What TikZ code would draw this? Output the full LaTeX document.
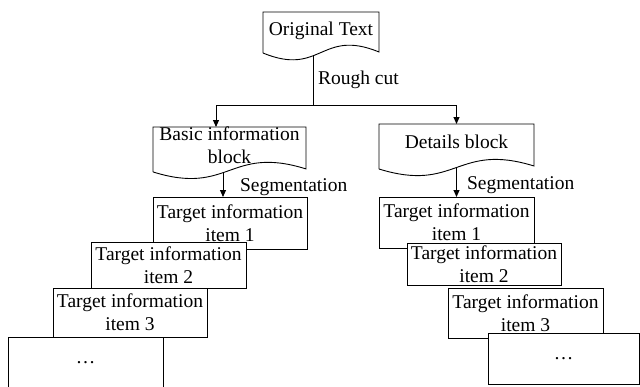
\documentclass[tikz,border=0pt]{standalone}
\usepackage{fontspec}
\setmainfont{Liberation Serif}
\usetikzlibrary{arrows.meta,calc}
\newcommand\mydocshape[4]{%
  \draw ($(#1.south west)+(0,#2)$) -- (#1.north west) -- (#1.north east)
    -- ($(#1.south east)+(0,#3)$) .. controls +(-#4,-24) and +(#4,24) .. ($(#1.south west)+(0,#2)$);}
\begin{document}
\begin{tikzpicture}[x=1pt,y=-1pt,
  font=\fontsize{19.5}{23}\selectfont, line width=0.9pt,
  txt/.style={inner sep=0pt, outer sep=0pt, align=center},
  docnode/.style={txt, minimum height=36pt, anchor=north west},
  itembox/.style={draw, fill=white, inner sep=0pt, outer sep=0pt, align=center, anchor=north west},
  arr/.style={-{Triangle[length=7pt,width=6pt]}}]
\useasboundingbox (0,0) rectangle (640,386);
\clip (0,0) rectangle (640,386);

% document-shaped nodes
\node[docnode, minimum width=116pt, minimum height=38pt] (orig) at (263,12) {Original Text};
\node[docnode, minimum width=153pt] (basic) at (153,127) {Basic information\\block};
\node[docnode, minimum width=155pt] (details) at (379,124) {Details block};
\mydocshape{orig}{3}{2}{58}
\mydocshape{basic}{8}{5}{76.5}
\mydocshape{details}{9}{6}{77.5}

% left stack
\node[itembox, minimum width=154pt, minimum height=52pt] (L1) at (153,197) {Target information\\item 1};
\node[itembox, minimum width=155pt, minimum height=46pt] (L2) at (91,242) {Target information\\item 2};
\node[itembox, minimum width=154pt, minimum height=49pt] (L3) at (53,288) {Target information\\item 3};
\node[itembox, minimum width=155pt, minimum height=52pt] (L4) at (8,337) {…};

% right stack
\node[itembox, minimum width=155pt, minimum height=51pt] (R1) at (379,197) {Target information\\item 1};
\node[itembox, minimum width=154pt, minimum height=42pt] (R2) at (407,243) {Target information\\item 2};
\node[itembox, minimum width=155pt, minimum height=50pt] (R3) at (448,288) {Target information\\item 3};
\node[itembox, minimum width=151pt, minimum height=51pt] (R4) at (488,333) {…};

% labels
\node[txt, anchor=west] (rough) at (318,80) {Rough cut};
\node[txt, anchor=west] (segL) at (240,187) {Segmentation};
\node[txt, anchor=west] (segR) at (467,185) {Segmentation};

% connectors
\coordinate (split) at (313,105);
\draw ([xshift=-8pt,yshift=-6pt]orig.south) -- (split);
\draw[arr] (split) -| ([xshift=-13.5pt]basic.north);
\draw[arr] (split) -| (details.north);
\draw[arr] ([xshift=-6.5pt,yshift=-9pt]basic.south) -- ([xshift=-7pt]L1.north);
\draw[arr] ([yshift=-8pt]details.south) -- (R1.north);
\end{tikzpicture}
\end{document}
